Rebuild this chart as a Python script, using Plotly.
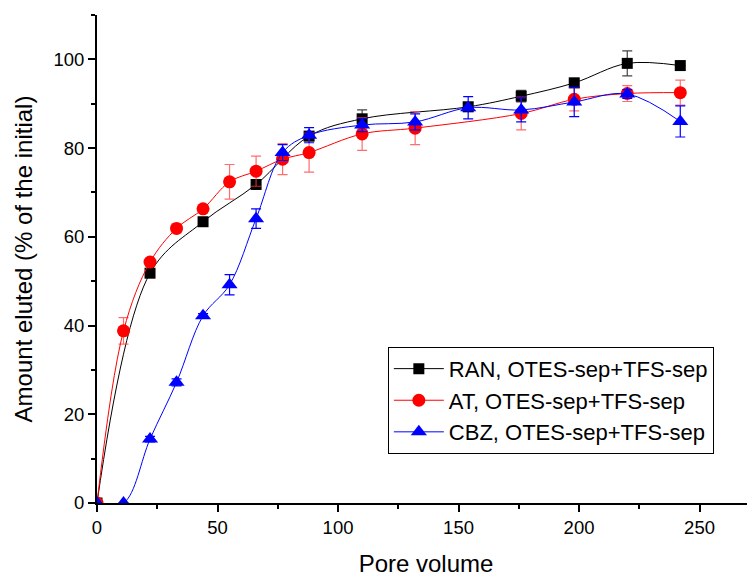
import plotly.graph_objects as go

# RAN
ran_x = [0, 22, 44, 66, 88, 110, 154, 176, 198, 220, 242]
ran_y = [0, 51.8, 63.4, 71.8, 82.7, 86.6, 89.3, 91.7, 94.7, 99.1, 98.6]
ran_err = [0, 0.6, 0.5, 0.8, 1.0, 2.0, 1.0, 1.3, 1.0, 2.8, 0]

# AT
at_x = [0, 11, 22, 33, 44, 55, 66, 77, 88, 110, 132, 176, 198, 220, 242]
at_y = [0, 38.8, 54.3, 61.9, 66.3, 72.4, 74.8, 77.5, 79.0, 83.2, 84.5, 87.8, 91.0, 92.3, 92.5]
at_err = [0, 3.0, 0.6, 1.0, 0.5, 3.9, 3.4, 3.5, 4.4, 3.7, 3.7, 3.7, 2.6, 1.8, 2.8]

# CBZ
cbz_x = [0, 11, 22, 33, 44, 55, 66, 77, 88, 110, 132, 154, 176, 198, 220, 242]
cbz_y = [0, 0, 14.4, 27.2, 42.2, 49.2, 64.1, 79.0, 82.9, 85.2, 85.9, 89.1, 88.6, 90.4, 92.2, 86.0]
cbz_err = [0, 0, 0.6, 0.8, 0.5, 2.3, 2.2, 1.8, 1.7, 1.5, 1.8, 2.5, 2.7, 3.3, 1.0, 3.5]

x_ticks = [0, 50, 100, 150, 200, 250]
y_ticks = [0, 20, 40, 60, 80, 100]

FONT = "Liberation Sans, Arial, sans-serif"

fig = go.Figure()

fig.add_trace(go.Scatter(
    x=ran_x, y=ran_y, mode="lines+markers",
    name="RAN, OTES-sep+TFS-sep",
    line=dict(color="black", width=1, shape="spline", smoothing=1.0),
    marker=dict(symbol="square", size=11, color="black"),
    error_y=dict(type="data", array=ran_err, color="#444444", thickness=1.2, width=5),
))
fig.add_trace(go.Scatter(
    x=at_x, y=at_y, mode="lines+markers",
    name="AT, OTES-sep+TFS-sep",
    line=dict(color="red", width=1, shape="spline", smoothing=1.0),
    marker=dict(symbol="circle", size=13, color="red"),
    error_y=dict(type="data", array=at_err, color="rgba(255,60,60,0.75)", thickness=1.2, width=5),
))
fig.add_trace(go.Scatter(
    x=cbz_x, y=cbz_y, mode="lines+markers",
    name="CBZ, OTES-sep+TFS-sep",
    line=dict(color="blue", width=1, shape="spline", smoothing=1.0),
    marker=dict(symbol="triangle-up", size=14, color="blue"),
    error_y=dict(type="data", array=cbz_err, color="blue", thickness=1.2, width=5),
))

fig.update_layout(
    width=747, height=570,
    margin=dict(l=89, r=0, t=7, b=75),
    paper_bgcolor="white", plot_bgcolor="white",
    font=dict(family=FONT, color="black", size=18.5),
    showlegend=True,
    legend=dict(
        x=0.442, y=0.32, xanchor="left", yanchor="top",
        bordercolor="black", borderwidth=1, bgcolor="white",
        font=dict(size=22, family=FONT),
        tracegroupgap=0, itemwidth=50,
    ),
    xaxis=dict(
        range=[0, 273], tickvals=x_ticks, showgrid=False, zeroline=False,
        showline=True, linecolor="black", linewidth=2,
        ticks="outside", ticklen=7, tickwidth=2, tickcolor="black",
        tickfont=dict(size=18.5),
        minor=dict(dtick=25, tick0=0, ticks="outside", ticklen=4, tickwidth=2, tickcolor="black"),
        title=dict(text="Pore volume", font=dict(size=24), standoff=18),
    ),
    yaxis=dict(
        range=[0, 110], tickvals=y_ticks, showgrid=False, zeroline=False,
        showline=True, linecolor="black", linewidth=2,
        ticks="outside", ticklen=7, tickwidth=2, tickcolor="black",
        tickfont=dict(size=18.5),
        minor=dict(dtick=10, tick0=0, ticks="outside", ticklen=4, tickwidth=2, tickcolor="black"),
        title=dict(text="Amount eluted (% of the initial)", font=dict(size=24), standoff=14),
    ),
)

fig.write_html("out.html")
